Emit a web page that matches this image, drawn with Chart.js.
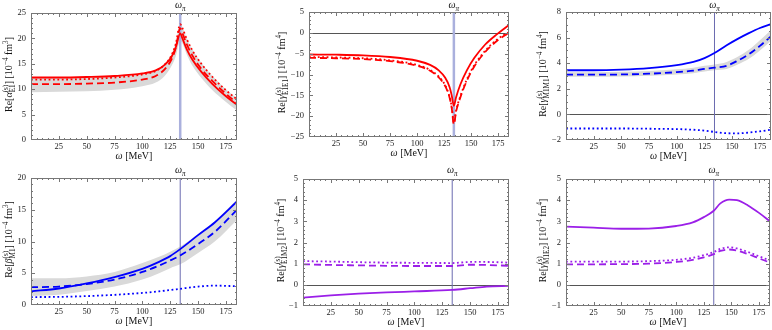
<!DOCTYPE html>
<html>
<head>
<meta charset="utf-8">
<script src="https://cdn.jsdelivr.net/npm/chart.js@4"></script>
<style>
html, body { margin: 0; padding: 0; background: #fff; }
#wrap { position: relative; width: 772px; height: 330px; overflow: hidden; }
#wrap canvas { position: absolute; }
</style>
</head>
<body>
<div id="wrap"></div>
<script>
// ========== DATA ==========
const omegaPi = 134;
const xMax = 185;
const xTicks = [25, 50, 75, 100, 125, 150, 175];

// alpha E1
const p1Omega  = [0, 25, 50, 75, 100, 112, 120, 126, 130, 134, 136, 140, 145, 153, 163, 174, 185];
const p1Solid  = [12.3, 12.3, 12.4, 12.6, 13.1, 13.7, 14.8, 16.3, 18.2, 21.0, 20.0, 17.8, 15.8, 13.4, 11.0, 8.8, 6.9];
const p1Dotted = [11.9, 11.9, 12.0, 12.3, 12.9, 13.6, 14.8, 16.6, 18.9, 22.8, 22.0, 19.8, 17.6, 15.0, 12.4, 10.0, 8.0];
const p1Dashed = [11.0, 11.0, 11.1, 11.3, 11.9, 12.6, 13.9, 15.8, 18.1, 22.0, 21.0, 18.8, 16.6, 14.0, 11.6, 9.3, 7.3];
const p1BandHi = [12.3, 12.3, 12.4, 12.6, 13.0, 13.7, 15.0, 16.9, 19.2, 23.0, 22.2, 20.0, 17.8, 15.2, 12.6, 10.2, 8.2];
const p1BandLo = [9.4, 9.5, 9.6, 9.9, 10.6, 11.3, 12.6, 14.5, 16.5, 19.5, 19.0, 16.8, 14.6, 12.2, 9.8, 7.7, 5.8];

// gamma E1E1
const p2Omega  = [0, 25, 50, 75, 100, 112, 120, 126, 130, 132, 134, 136, 140, 146, 153, 163, 174, 185];
const p2Solid  = [-5.2, -5.25, -5.4, -5.8, -6.7, -7.7, -9.0, -10.8, -13.0, -15.0, -17.5, -15.5, -12.4, -9.0, -6.0, -2.8, -0.3, 1.9];
const p2Dashed = [-6.0, -6.1, -6.3, -6.8, -7.9, -9.1, -10.7, -12.8, -15.5, -18.0, -22.0, -19.0, -15.5, -11.5, -8.0, -4.6, -1.9, 0.0];
const p2Dotted = [-5.8, -5.9, -6.1, -6.6, -7.7, -8.9, -10.5, -12.6, -15.3, -17.8, -21.5, -18.7, -15.2, -11.2, -7.7, -4.3, -1.6, 0.2];

// gamma M1M1
const p3Omega  = [0, 25, 50, 75, 100, 115, 125, 134, 145, 155, 165, 175, 185];
const p3Solid  = [3.45, 3.45, 3.5, 3.62, 3.85, 4.1, 4.4, 4.8, 5.4, 5.9, 6.35, 6.75, 7.05];
const p3Dashed = [3.1, 3.1, 3.12, 3.18, 3.3, 3.42, 3.55, 3.65, 3.8, 4.2, 4.7, 5.35, 6.1];
const p3Dotted = [-1.1, -1.1, -1.1, -1.12, -1.15, -1.2, -1.27, -1.37, -1.47, -1.48, -1.42, -1.32, -1.2];
const p3BandHi = [3.3, 3.3, 3.33, 3.4, 3.52, 3.65, 3.8, 3.9, 4.1, 4.5, 5.05, 5.8, 6.6];
const p3BandLo = [2.95, 2.95, 2.97, 3.02, 3.12, 3.22, 3.35, 3.45, 3.55, 3.9, 4.35, 5.0, 5.75];

// beta M1
const p4Omega  = [0, 25, 50, 75, 100, 115, 125, 134, 150, 165, 185];
const p4Solid  = [2.15, 2.6, 3.4, 4.4, 5.7, 6.8, 7.7, 8.8, 11.0, 13.0, 16.3];
const p4Dashed = [2.8, 2.9, 3.3, 4.0, 5.2, 6.2, 7.0, 7.8, 9.6, 11.5, 15.0];
const p4Dotted = [1.25, 1.28, 1.4, 1.6, 1.9, 2.15, 2.35, 2.55, 2.9, 3.05, 2.95];
const p4BandHi = [4.2, 4.2, 4.5, 5.2, 6.6, 7.6, 8.4, 9.2, 11.2, 13.2, 16.6];
const p4BandLo = [1.4, 1.6, 2.2, 2.9, 4.0, 5.0, 5.8, 6.4, 8.2, 10.0, 13.4];

// gamma E1M2
const p5Omega  = [0, 25, 50, 75, 100, 134, 150, 165, 185];
const p5Solid  = [-0.6, -0.5, -0.42, -0.36, -0.31, -0.24, -0.16, -0.08, -0.05];
const p5Dashed = [0.97, 0.94, 0.92, 0.9, 0.89, 0.89, 0.95, 0.94, 0.9];
const p5Dotted = [1.12, 1.1, 1.07, 1.05, 1.04, 1.03, 1.08, 1.08, 1.05];

// gamma M1E2
const p6Omega  = [0, 25, 50, 75, 100, 115, 125, 134, 140, 148, 155, 165, 175, 185];
const p6Solid  = [2.75, 2.7, 2.65, 2.66, 2.78, 2.95, 3.2, 3.5, 3.85, 4.03, 4.0, 3.75, 3.4, 3.0];
const p6Dashed = [0.97, 0.97, 0.98, 1.0, 1.08, 1.18, 1.3, 1.45, 1.6, 1.67, 1.62, 1.45, 1.25, 1.05];
const p6Dotted = [1.1, 1.1, 1.1, 1.12, 1.18, 1.28, 1.4, 1.55, 1.7, 1.77, 1.72, 1.55, 1.35, 1.15];

// ========== STYLE ==========
const RED = '#ff0000';
const BLUE = '#0000ff';
const PURPLE = '#9b1fe8';
const BAND = '#d9d9d9';
const FRAME = '#777777';
const SERIF = '"Liberation Serif", "DejaVu Serif", serif';

const lblAlpha = [{t: 'Re['}, {t: 'α', it: true}, {sub: 'E1', sup: '(s)'}, {t: '] [10'}, {sup: '−4'}, {t: ' fm'}, {sup: '3'}, {t: ']'}];
const lblE1E1  = [{t: 'Re['}, {t: 'γ', it: true}, {sub: 'E1E1', sup: '(s)'}, {t: '] [10'}, {sup: '−4'}, {t: ' fm'}, {sup: '4'}, {t: ']'}];
const lblM1M1  = [{t: 'Re['}, {t: 'γ', it: true}, {sub: 'M1M1', sup: '(s)'}, {t: '] [10'}, {sup: '−4'}, {t: ' fm'}, {sup: '4'}, {t: ']'}];
const lblBeta  = [{t: 'Re['}, {t: 'β', it: true}, {sub: 'M1', sup: '(s)'}, {t: '] [10'}, {sup: '−4'}, {t: ' fm'}, {sup: '3'}, {t: ']'}];
const lblE1M2  = [{t: 'Re['}, {t: 'γ', it: true}, {sub: 'E1M2', sup: '(s)'}, {t: '] [10'}, {sup: '−4'}, {t: ' fm'}, {sup: '4'}, {t: ']'}];
const lblM1E2  = [{t: 'Re['}, {t: 'γ', it: true}, {sub: 'M1E2', sup: '(s)'}, {t: '] [10'}, {sup: '−4'}, {t: ' fm'}, {sup: '4'}, {t: ']'}];
const lblOmega = [{t: 'ω', it: true}, {t: ' [MeV]'}];
const lblPi    = [{t: 'ω', it: true}, {sub: 'π', subIt: true}];

const panels = [
    { box: [0, 0, 257, 165], plot: [31, 237, 13, 140], yTicks: [0, 5, 10, 15, 20, 25], yMinor: 1,
      color: RED, omega: p1Omega, solid: p1Solid, dashed: p1Dashed, dotted: p1Dotted, bandHi: p1BandHi, bandLo: p1BandLo,
      zero: false, piWide: true, titleX: 9, label: lblAlpha },
    { box: [257, 0, 257, 165], plot: [309, 509, 12, 137], yTicks: [-25, -20, -15, -10, -5, 0, 5], yMinor: 1,
      color: RED, omega: p2Omega, solid: p2Solid, dashed: p2Dashed, dotted: p2Dotted,
      zero: true, piWide: true, titleX: 25, label: lblE1E1 },
    { box: [514, 0, 258, 165], plot: [566, 771, 12, 140], yTicks: [-2, 0, 2, 4, 6, 8], yMinor: 0.5,
      color: BLUE, omega: p3Omega, solid: p3Solid, dashed: p3Dashed, dotted: p3Dotted, bandHi: p3BandHi, bandLo: p3BandLo,
      zero: true, piWide: false, titleX: 29, label: lblM1M1 },
    { box: [0, 165, 257, 165], plot: [31, 237, 178, 305], yTicks: [0, 5, 10, 15, 20], yMinor: 1,
      color: BLUE, omega: p4Omega, solid: p4Solid, dashed: p4Dashed, dotted: p4Dotted, bandHi: p4BandHi, bandLo: p4BandLo,
      zero: false, piWide: false, titleX: 9, label: lblBeta },
    { box: [257, 165, 257, 165], plot: [303, 509, 179, 306], yTicks: [-1, 0, 1, 2, 3, 4, 5], yMinor: 0.2,
      color: PURPLE, omega: p5Omega, solid: p5Solid, dashed: p5Dashed, dotted: p5Dotted,
      zero: true, piWide: false, titleX: 24, label: lblE1M2 },
    { box: [514, 165, 258, 165], plot: [566, 770, 179, 306], yTicks: [-1, 0, 1, 2, 3, 4, 5], yMinor: 0.2,
      color: PURPLE, omega: p6Omega, solid: p6Solid, dashed: p6Dashed, dotted: p6Dotted,
      zero: true, piWide: false, titleX: 29, label: lblM1E2 }
];

// ========== RICH TEXT HELPERS ==========
function serifFont(size, italic) {
    return (italic ? 'italic ' : '') + size + 'px ' + SERIF;
}

function drawRich(ctx, segs, cx, cy, size, rotate) {
    const small = size * 0.72;
    let width = 0;
    const items = segs.map(s => {
        let w;
        if (s.t !== undefined) {
            ctx.font = serifFont(size, s.it);
            w = ctx.measureText(s.t).width;
        } else {
            ctx.font = serifFont(small, s.subIt);
            w = Math.max(s.sub ? ctx.measureText(s.sub).width : 0, s.sup ? ctx.measureText(s.sup).width : 0);
        }
        const item = { s: s, x: width };
        width += w;
        return item;
    });

    ctx.save();
    ctx.translate(cx, cy);
    if (rotate) ctx.rotate(-Math.PI / 2);
    ctx.fillStyle = '#111';
    ctx.textAlign = 'left';
    ctx.textBaseline = 'alphabetic';
    const base = size * 0.33;
    items.forEach(it => {
        const x = it.x - width / 2;
        const s = it.s;
        if (s.t !== undefined) {
            ctx.font = serifFont(size, s.it);
            ctx.fillText(s.t, x, base);
        } else {
            ctx.font = serifFont(small, s.subIt);
            if (s.sup) ctx.fillText(s.sup, x, base - size * 0.42);
            if (s.sub) ctx.fillText(s.sub, x, base + size * 0.25);
        }
    });
    ctx.restore();
}

// ========== PANEL PLUGIN ==========
function panelPlugin(p) {
    return {
        id: 'panelDecor',
        beforeDatasetsDraw(chart) {
            const ctx = chart.ctx;
            const a = chart.chartArea;
            const xs = chart.scales.x, ys = chart.scales.y;
            ctx.save();
            if (p.zero) {
                const y0 = Math.round(ys.getPixelForValue(0)) + 0.5;
                ctx.strokeStyle = '#555';
                ctx.lineWidth = 1;
                ctx.beginPath();
                ctx.moveTo(a.left, y0);
                ctx.lineTo(a.right, y0);
                ctx.stroke();
            }
            const xp = xs.getPixelForValue(omegaPi);
            ctx.strokeStyle = p.piWide ? '#aab0dd' : '#6b6bb0';
            ctx.lineWidth = p.piWide ? 2.5 : 1;
            ctx.beginPath();
            ctx.moveTo(xp, a.top);
            ctx.lineTo(xp, a.bottom);
            ctx.stroke();
            ctx.restore();
        },
        afterDraw(chart) {
            const ctx = chart.ctx;
            const a = chart.chartArea;
            const xs = chart.scales.x, ys = chart.scales.y;
            ctx.save();
            // frame
            ctx.strokeStyle = FRAME;
            ctx.lineWidth = 1;
            ctx.strokeRect(a.left + 0.5, a.top + 0.5, a.right - a.left - 1, a.bottom - a.top - 1);
            // inward ticks
            ctx.beginPath();
            for (let v = 5; v < xMax; v += 5) {
                const x = Math.round(xs.getPixelForValue(v)) + 0.5;
                const len = v % 25 === 0 ? 4 : 2;
                ctx.moveTo(x, a.bottom);
                ctx.lineTo(x, a.bottom - len);
                ctx.moveTo(x, a.top);
                ctx.lineTo(x, a.top + len);
            }
            const yLo = p.yTicks[0], yHi = p.yTicks[p.yTicks.length - 1];
            const n = Math.round((yHi - yLo) / p.yMinor);
            const major = p.yTicks[1] - p.yTicks[0];
            for (let i = 1; i < n; i++) {
                const v = yLo + i * p.yMinor;
                const y = Math.round(ys.getPixelForValue(v)) + 0.5;
                const isMajor = Math.abs(v / major - Math.round(v / major)) < 1e-6;
                const len = isMajor ? 4 : 2;
                ctx.moveTo(a.left, y);
                ctx.lineTo(a.left + len, y);
                ctx.moveTo(a.right, y);
                ctx.lineTo(a.right - len, y);
            }
            ctx.stroke();
            ctx.restore();

            // labels
            drawRich(ctx, p.label, p.titleX, (a.top + a.bottom) / 2 - 2, 10, true);
            drawRich(ctx, lblOmega, (a.left + a.right) / 2, a.bottom + 16, 10, false);
            drawRich(ctx, lblPi, xs.getPixelForValue(omegaPi), 5, 10, false);
        }
    };
}

// ========== BUILD PANEL ==========
function toPoints(xsArr, ysArr) {
    return xsArr.map((x, i) => ({ x: x, y: ysArr[i] }));
}

function makePanel(p) {
    const wrap = document.getElementById('wrap');
    const cv = document.createElement('canvas');
    cv.width = p.box[2];
    cv.height = p.box[3];
    cv.style.left = p.box[0] + 'px';
    cv.style.top = p.box[1] + 'px';
    cv.style.width = p.box[2] + 'px';
    cv.style.height = p.box[3] + 'px';
    wrap.appendChild(cv);

    const plotL = p.plot[0] - p.box[0];
    const plotR = p.plot[1] - p.box[0];
    const plotT = p.plot[2] - p.box[1];
    const plotB = p.plot[3] - p.box[1];

    const lineBase = { borderColor: p.color, borderWidth: 1.8, pointRadius: 0, fill: false,
                       cubicInterpolationMode: 'monotone', order: 1 };
    const datasets = [
        { ...lineBase, data: toPoints(p.omega, p.solid) },
        { ...lineBase, data: toPoints(p.omega, p.dashed), borderDash: [7, 4] },
        { ...lineBase, data: toPoints(p.omega, p.dotted), borderDash: [1.8, 2.6] }
    ];
    if (p.bandHi) {
        datasets.push({ data: toPoints(p.omega, p.bandHi), borderWidth: 0, pointRadius: 0,
                        backgroundColor: BAND, fill: '+1', cubicInterpolationMode: 'monotone', order: 2 });
        datasets.push({ data: toPoints(p.omega, p.bandLo), borderWidth: 0, pointRadius: 0,
                        fill: false, cubicInterpolationMode: 'monotone', order: 2 });
    }

    const tickFont = { family: SERIF, size: 8.5 };
    const fmt = v => (v < 0 ? '\u2212' + Math.abs(v) : String(v));

    new Chart(cv, {
        type: 'line',
        data: { datasets: datasets },
        options: {
            responsive: false,
            animation: false,
            layout: { padding: { left: 0, top: plotT, right: p.box[2] - plotR, bottom: 0 } },
            plugins: {
                legend: { display: false },
                tooltip: { enabled: false },
                filler: { drawTime: 'beforeDatasetsDraw' }
            },
            scales: {
                x: {
                    type: 'linear',
                    min: 0,
                    max: xMax,
                    afterBuildTicks: s => { s.ticks = xTicks.map(v => ({ value: v })); },
                    afterFit: s => { s.height = p.box[3] - plotB; },
                    ticks: { font: tickFont, color: '#222', padding: 2, maxRotation: 0, autoSkip: false, callback: fmt },
                    grid: { display: false, drawTicks: false },
                    border: { display: false }
                },
                y: {
                    type: 'linear',
                    min: p.yTicks[0],
                    max: p.yTicks[p.yTicks.length - 1],
                    afterBuildTicks: s => { s.ticks = p.yTicks.map(v => ({ value: v })); },
                    afterFit: s => { s.width = plotL; },
                    ticks: { font: tickFont, color: '#222', padding: 5, autoSkip: false, callback: fmt },
                    grid: { display: false, drawTicks: false },
                    border: { display: false }
                }
            }
        },
        plugins: [panelPlugin(p)]
    });
}

panels.forEach(makePanel);
</script>
</body>
</html>
